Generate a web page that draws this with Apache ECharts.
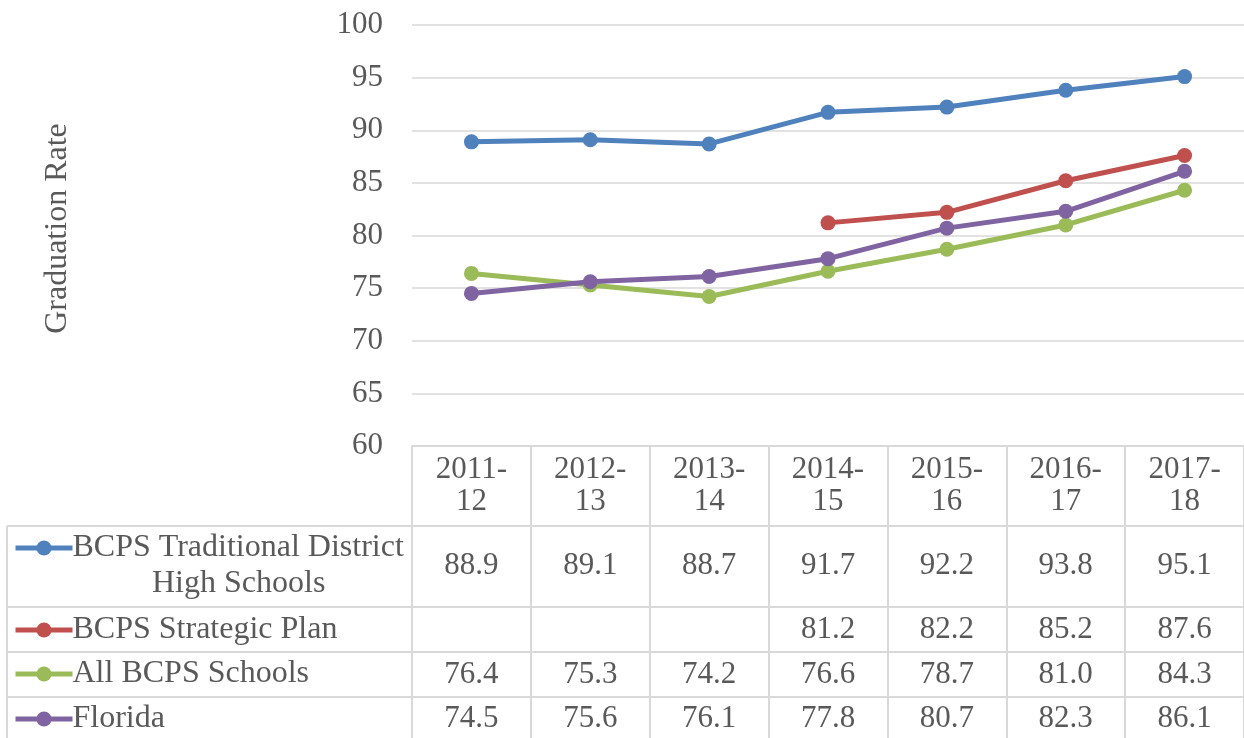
<!DOCTYPE html>
<html>
<head>
<meta charset="utf-8">
<script src="https://cdn.jsdelivr.net/npm/echarts@6/dist/echarts.min.js"></script>
<style>
  html, body { margin: 0; padding: 0; background: #fff; }
  #main { width: 1244px; height: 738px; }
</style>
</head>
<body>
<div id="main"></div>
<script>
// data
const years = ['2011-\n12', '2012-\n13', '2013-\n14', '2014-\n15', '2015-\n16', '2016-\n17', '2017-\n18']
const traditional = [88.9, 89.1, 88.7, 91.7, 92.2, 93.8, 95.1]
const strategic = [null, null, null, 81.2, 82.2, 85.2, 87.6]
const allSchools = [76.4, 75.3, 74.2, 76.6, 78.7, 81.0, 84.3]
const florida = [74.5, 75.6, 76.1, 77.8, 80.7, 82.3, 86.1]
const yTicks = { min: 60, max: 100, step: 5 }

const FONT = 'Liberation Serif'
const TXT = '#595959'
const LINE = '#d9d9d9'

const rows = [
  { name: 'BCPS Traditional District', data: traditional, color: '#4f81bd', center: 566, key: 548 },
  { name: 'BCPS Strategic Plan', data: strategic, color: '#c0504d', center: 630, key: 630 },
  { name: 'All BCPS Schools', data: allSchools, color: '#9bbb59', center: 674.5, key: 674 },
  { name: 'Florida', data: florida, color: '#8064a2', center: 719, key: 719 }
]
const axisY = 446

const chart = echarts.init(document.getElementById('main'))

// one hidden-line axis per table row, its labels are the row values
const tableAxes = rows.map(r => ({
  type: 'category',
  data: years,
  position: 'bottom',
  offset: r.center - axisY,
  axisLine: { show: false },
  axisTick: { show: false },
  axisLabel: {
    interval: 0,
    margin: 0,
    verticalAlign: 'middle',
    fontFamily: FONT,
    fontSize: 31,
    color: TXT,
    formatter: (v, i) => (r.data[i] == null ? '' : r.data[i].toFixed(1))
  }
}))

const legends = rows.map(r => ({
  data: [r.name],
  left: 13,
  top: r.key - 16,
  padding: 0,
  itemWidth: 57,
  itemHeight: 19,
  itemGap: 0,
  lineStyle: { width: 5 },
  textStyle: { fontFamily: FONT, fontSize: 32, color: TXT, padding: [0, 0, 0, -5] }
}))

const option = {
  animation: false,
  grid: { left: 412, top: 25, width: 842, height: axisY - 25, containLabel: false },
  legend: legends,
  xAxis: [
    {
      type: 'category',
      data: years,
      axisLine: { show: true, lineStyle: { color: LINE, width: 2 } },
      axisTick: { show: true, interval: 0, length: 300, lineStyle: { color: LINE, width: 2 } },
      axisLabel: {
        interval: 0,
        margin: 8,
        lineHeight: 32,
        fontFamily: FONT,
        fontSize: 31,
        color: TXT
      }
    }
  ].concat(tableAxes),
  yAxis: {
    type: 'value',
    min: yTicks.min,
    max: yTicks.max,
    interval: yTicks.step,
    name: 'Graduation Rate',
    nameLocation: 'middle',
    nameGap: 338,
    nameTextStyle: { fontFamily: FONT, fontSize: 32, color: TXT, padding: [0, 0, 0, 14] },
    axisLine: { show: false },
    axisTick: { show: false },
    axisLabel: { margin: 29, fontFamily: FONT, fontSize: 31, color: TXT },
    splitLine: { lineStyle: { color: LINE, width: 1.5 } }
  },
  series: rows.map(r => ({
    name: r.name,
    type: 'line',
    data: r.data,
    symbol: 'circle',
    symbolSize: 15,
    itemStyle: { color: r.color },
    lineStyle: { color: r.color, width: 5 }
  })),
  graphic: [
    { type: 'line', shape: { x1: 7, y1: 526, x2: 1244, y2: 526 }, style: { stroke: LINE, lineWidth: 2 } },
    { type: 'line', shape: { x1: 7, y1: 607, x2: 1244, y2: 607 }, style: { stroke: LINE, lineWidth: 2 } },
    { type: 'line', shape: { x1: 7, y1: 652, x2: 1244, y2: 652 }, style: { stroke: LINE, lineWidth: 2 } },
    { type: 'line', shape: { x1: 7, y1: 697, x2: 1244, y2: 697 }, style: { stroke: LINE, lineWidth: 2 } },
    { type: 'line', shape: { x1: 7, y1: 526, x2: 7, y2: 738 }, style: { stroke: LINE, lineWidth: 2 } },
    {
      type: 'text', left: 152, top: 568,
      style: { text: 'High Schools', fontFamily: FONT, fontSize: 32, fill: TXT }
    }
  ]
}

chart.setOption(option)
</script>
</body>
</html>
